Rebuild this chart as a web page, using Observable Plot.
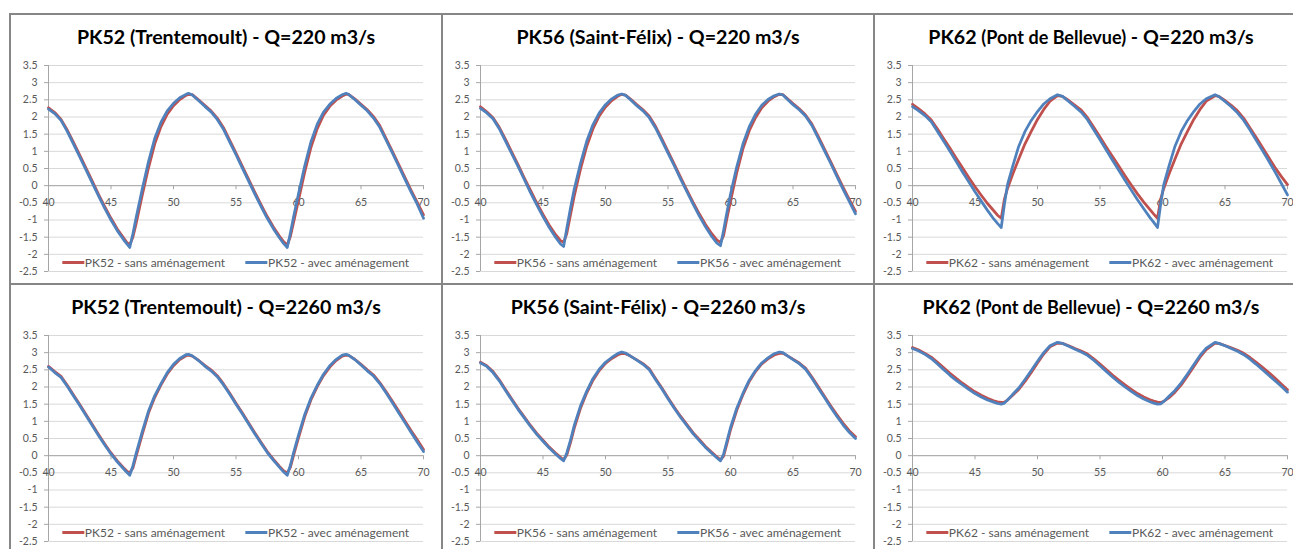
<!DOCTYPE html>
<html><head><meta charset="utf-8">
<script src="https://cdn.jsdelivr.net/npm/d3@7"></script>
<script src="https://cdn.jsdelivr.net/npm/@observablehq/plot@0.6"></script>
<style>
body{margin:0;background:#fff;font-family:Lato,sans-serif;}
#root{position:relative;width:1293px;height:549px;overflow:hidden;background:#fff;}
.title{position:absolute;font-weight:bold;font-size:19.6px;color:#000;white-space:nowrap;transform:translate(-50%,-50%);line-height:1;}
.title .small{font-size:18px;}
.legend{position:absolute;display:flex;gap:20px;transform:translate(-50%,-50%);font-size:12px;color:#595959;white-space:nowrap;align-items:center;line-height:1;}
.legend .sw{display:inline-block;width:22px;height:3px;vertical-align:middle;margin-right:1px;position:relative;top:-1px}
.border{position:absolute;background:#868686;}
svg{position:absolute;overflow:visible}
</style></head>
<body><div id="root"></div>
<script>
// ---- time axes (hours) per station ----
const t52 = [40,40.5,41,41.5,42,42.5,43,43.5,44,44.5,45,45.5,46,46.3,46.5,46.75,47,47.5,48,48.5,49,49.5,50,50.5,51,51.2,51.5,52,52.5,53,53.5,54,54.5,55,55.5,56,56.5,57,57.5,58,58.5,58.8,59.1,59.35,59.6,60,60.5,61,61.5,62,62.5,63,63.5,63.8,64,64.5,65,65.5,66,66.5,67,67.5,68,68.5,69,69.5,70];
const t56 = [40,40.5,41,41.5,42,42.5,43,43.5,44,44.5,45,45.5,46,46.4,46.65,46.9,47.2,47.5,48,48.5,49,49.5,50,50.5,51,51.3,51.6,52,52.5,53,53.5,54,54.5,55,55.5,56,56.5,57,57.5,58,58.5,58.9,59.2,59.45,59.7,60,60.5,61,61.5,62,62.5,63,63.5,63.9,64.2,64.5,65,65.5,66,66.5,67,67.5,68,68.5,69,69.5,70];
const t62 = [40,40.5,41,41.5,42,42.5,43,43.5,44,44.5,45,45.5,46,46.5,46.8,47.1,47.35,47.6,48,48.5,49,49.5,50,50.5,51,51.6,52,52.5,53,53.5,54,54.5,55,55.5,56,56.5,57,57.5,58,58.5,59,59.3,59.6,59.85,60.1,60.5,61,61.5,62,62.5,63,63.5,64.2,64.5,65,65.5,66,66.5,67,67.5,68,68.5,69,69.5,70];

// ---- water levels (m) ----
const sans52q220 = [2.27,2.13,1.93,1.62,1.26,0.89,0.51,0.13,-0.25,-0.61,-0.95,-1.26,-1.52,-1.67,-1.72,-1.50,-1.12,-0.28,0.52,1.22,1.72,2.08,2.33,2.51,2.63,2.66,2.65,2.50,2.34,2.18,1.97,1.69,1.32,0.95,0.57,0.19,-0.19,-0.55,-0.90,-1.21,-1.48,-1.63,-1.73,-1.48,-1.08,-0.42,0.40,1.12,1.66,2.05,2.31,2.49,2.61,2.66,2.66,2.53,2.37,2.21,2.01,1.75,1.38,1.01,0.63,0.25,-0.13,-0.49,-0.85];
const avec52q220 = [2.23,2.10,1.90,1.58,1.21,0.84,0.46,0.08,-0.30,-0.66,-1.00,-1.31,-1.57,-1.71,-1.80,-1.40,-0.95,-0.10,0.70,1.38,1.85,2.18,2.40,2.56,2.66,2.69,2.64,2.48,2.31,2.15,1.93,1.64,1.27,0.90,0.52,0.14,-0.24,-0.60,-0.95,-1.26,-1.53,-1.68,-1.80,-1.38,-0.92,-0.24,0.58,1.28,1.79,2.14,2.37,2.54,2.65,2.69,2.66,2.51,2.34,2.18,1.97,1.70,1.33,0.96,0.58,0.20,-0.18,-0.54,-0.95];
const sans56q220 = [2.30,2.15,1.98,1.70,1.35,0.98,0.61,0.23,-0.14,-0.50,-0.84,-1.15,-1.42,-1.60,-1.65,-1.40,-0.85,-0.30,0.48,1.15,1.66,2.03,2.29,2.48,2.61,2.66,2.64,2.52,2.36,2.21,2.02,1.73,1.37,1.00,0.63,0.25,-0.12,-0.48,-0.82,-1.13,-1.40,-1.58,-1.65,-1.45,-0.98,-0.45,0.38,1.08,1.60,1.98,2.27,2.46,2.59,2.66,2.65,2.55,2.39,2.24,2.06,1.80,1.45,1.08,0.71,0.33,-0.04,-0.40,-0.75];
const avec56q220 = [2.25,2.12,1.95,1.66,1.30,0.93,0.56,0.18,-0.20,-0.56,-0.90,-1.22,-1.50,-1.70,-1.77,-1.25,-0.65,-0.10,0.65,1.30,1.78,2.12,2.36,2.53,2.64,2.67,2.63,2.50,2.33,2.18,1.98,1.68,1.32,0.95,0.58,0.20,-0.17,-0.53,-0.88,-1.20,-1.48,-1.67,-1.75,-1.30,-0.80,-0.25,0.55,1.22,1.72,2.08,2.34,2.51,2.62,2.67,2.64,2.53,2.36,2.21,2.03,1.76,1.40,1.03,0.66,0.28,-0.10,-0.46,-0.82];
const sans62q220 = [2.37,2.24,2.09,1.91,1.65,1.37,1.09,0.80,0.52,0.24,-0.03,-0.28,-0.52,-0.73,-0.86,-0.95,-0.40,-0.08,0.32,0.78,1.22,1.58,1.93,2.22,2.46,2.62,2.60,2.48,2.34,2.20,1.98,1.70,1.42,1.13,0.85,0.57,0.29,0.02,-0.24,-0.48,-0.70,-0.83,-0.95,-0.40,-0.08,0.32,0.78,1.22,1.58,1.93,2.22,2.46,2.62,2.60,2.48,2.34,2.18,1.96,1.68,1.40,1.11,0.82,0.53,0.27,0.03];
const avec62q220 = [2.30,2.18,2.04,1.86,1.58,1.29,1.00,0.70,0.40,0.11,-0.18,-0.45,-0.72,-0.97,-1.10,-1.22,-0.55,0.03,0.55,1.15,1.58,1.90,2.16,2.38,2.53,2.65,2.60,2.45,2.30,2.14,1.92,1.63,1.34,1.04,0.74,0.45,0.16,-0.13,-0.41,-0.67,-0.93,-1.07,-1.22,-0.55,0.03,0.55,1.15,1.58,1.90,2.16,2.38,2.53,2.65,2.60,2.45,2.30,2.12,1.90,1.62,1.32,1.02,0.72,0.40,0.07,-0.27];
const sans52q2260 = [2.60,2.45,2.31,2.05,1.77,1.49,1.20,0.91,0.62,0.34,0.08,-0.15,-0.35,-0.46,-0.50,-0.36,-0.03,0.62,1.24,1.70,2.06,2.38,2.62,2.80,2.91,2.93,2.90,2.78,2.63,2.50,2.33,2.09,1.82,1.53,1.25,0.96,0.67,0.39,0.12,-0.11,-0.32,-0.44,-0.50,-0.34,0.00,0.52,1.14,1.63,2.01,2.33,2.58,2.77,2.90,2.93,2.92,2.81,2.66,2.50,2.35,2.13,1.87,1.59,1.31,1.02,0.73,0.46,0.18];
const avec52q2260 = [2.58,2.42,2.28,2.02,1.74,1.46,1.17,0.88,0.59,0.31,0.05,-0.18,-0.38,-0.50,-0.57,-0.30,0.05,0.70,1.30,1.75,2.10,2.42,2.66,2.83,2.94,2.95,2.91,2.77,2.61,2.47,2.30,2.06,1.79,1.50,1.22,0.93,0.64,0.36,0.09,-0.14,-0.35,-0.47,-0.57,-0.28,0.08,0.60,1.20,1.68,2.05,2.37,2.62,2.80,2.93,2.95,2.93,2.80,2.64,2.47,2.32,2.10,1.83,1.55,1.26,0.97,0.68,0.40,0.12];
const sans56q2260 = [2.72,2.62,2.45,2.21,1.93,1.65,1.38,1.13,0.88,0.65,0.45,0.25,0.08,-0.05,-0.12,0.02,0.38,0.80,1.38,1.83,2.20,2.48,2.69,2.83,2.94,2.98,2.97,2.90,2.79,2.68,2.53,2.25,1.98,1.69,1.41,1.15,0.91,0.67,0.47,0.27,0.10,-0.03,-0.12,-0.01,0.33,0.75,1.32,1.78,2.16,2.45,2.67,2.82,2.93,2.98,2.98,2.92,2.81,2.70,2.55,2.30,2.02,1.74,1.46,1.20,0.95,0.73,0.55];
const avec56q2260 = [2.70,2.60,2.42,2.18,1.90,1.62,1.35,1.10,0.85,0.62,0.42,0.22,0.05,-0.08,-0.15,0.08,0.45,0.88,1.45,1.88,2.25,2.52,2.72,2.86,2.98,3.02,2.99,2.90,2.78,2.66,2.50,2.22,1.95,1.66,1.38,1.12,0.88,0.64,0.44,0.24,0.07,-0.06,-0.15,0.05,0.40,0.82,1.38,1.82,2.20,2.48,2.70,2.85,2.97,3.02,3.00,2.92,2.80,2.68,2.52,2.26,1.98,1.70,1.42,1.15,0.90,0.68,0.50];
const sans62q2260 = [3.15,3.08,2.98,2.87,2.72,2.56,2.40,2.25,2.11,1.98,1.86,1.76,1.67,1.60,1.57,1.55,1.56,1.62,1.75,1.93,2.16,2.42,2.70,2.96,3.17,3.28,3.27,3.20,3.12,3.05,2.96,2.82,2.67,2.51,2.35,2.20,2.06,1.93,1.81,1.71,1.63,1.59,1.56,1.55,1.58,1.68,1.85,2.06,2.32,2.59,2.87,3.09,3.28,3.27,3.21,3.14,3.07,2.98,2.86,2.72,2.57,2.42,2.26,2.09,1.92];
const avec62q2260 = [3.12,3.05,2.95,2.83,2.67,2.50,2.34,2.19,2.06,1.93,1.81,1.71,1.62,1.56,1.52,1.50,1.53,1.62,1.78,1.97,2.22,2.48,2.75,3.00,3.20,3.30,3.27,3.19,3.10,3.02,2.92,2.78,2.62,2.45,2.29,2.14,2.00,1.87,1.75,1.65,1.57,1.53,1.50,1.51,1.58,1.72,1.90,2.12,2.38,2.65,2.92,3.13,3.30,3.27,3.20,3.12,3.04,2.94,2.81,2.66,2.50,2.34,2.18,2.02,1.85];

// ---- labels ----
const stations = ["PK52", "PK56", "PK62", "PK52", "PK56", "PK62"];
const places = ["Trentemoult", "Saint-Félix", "Pont de Bellevue", "Trentemoult", "Saint-Félix", "Pont de Bellevue"];
const flows = ["220", "220", "220", "2260", "2260", "2260"];
const seriesLabels = ["sans aménagement", "avec aménagement"];
const xTicks = [40, 45, 50, 55, 60, 65, 70];
const yTicks = [-2.5, -2, -1.5, -1, -0.5, 0, 0.5, 1, 1.5, 2, 2.5, 3, 3.5];

const times = [t52, t56, t62, t52, t56, t62];
const sansSeries = [sans52q220, sans56q220, sans62q220, sans52q2260, sans56q2260, sans62q2260];
const avecSeries = [avec52q220, avec56q220, avec62q220, avec52q2260, avec56q2260, avec62q2260];

// ---- layout (page pixels) ----
const layout = [
  {x0: 48, x1: 423, y0: 65, y1: 271, tx: 226, ty: 37, ly: 263},
  {x0: 480, x1: 855, y0: 65, y1: 271, tx: 658, ty: 37, ly: 263},
  {x0: 912, x1: 1287, y0: 65, y1: 271, tx: 1091, ty: 37, ly: 263},
  {x0: 48, x1: 423, y0: 335, y1: 541, tx: 226, ty: 307, ly: 533},
  {x0: 480, x1: 855, y0: 335, y1: 541, tx: 658, ty: 307, ly: 533},
  {x0: 912, x1: 1287, y0: 335, y1: 541, tx: 1091, ty: 307, ly: 533}
];
const RED = "#C0504D", BLUE = "#4F81BD";

const root = document.getElementById("root");
function addBorder(l, t, w, h) {
  const d = document.createElement("div"); d.className = "border";
  Object.assign(d.style, {left: l + "px", top: t + "px", width: w + "px", height: h + "px"});
  root.appendChild(d);
}
addBorder(9, 13, 1284, 2);
addBorder(9, 283, 1284, 2);
addBorder(9, 13, 2, 536);
addBorder(441, 13, 2, 536);
addBorder(873, 13, 2, 536);

stations.forEach((st, i) => {
  const L = layout[i];
  const mL = 40, mR = 8, mT = 12, mB = 10;
  const w = L.x1 - L.x0 + mL + mR, h = L.y1 - L.y0 + mT + mB;
  const t = times[i];
  const sans = t.map((x, j) => ({x, y: sansSeries[i][j]}));
  const avec = t.map((x, j) => ({x, y: avecSeries[i][j]}));
  const svg = Plot.plot({
    width: w, height: h, marginLeft: mL, marginRight: mR, marginTop: mT, marginBottom: mB,
    x: {domain: [40, 70], axis: null},
    y: {domain: [-2.5, 3.5]},
    style: {fontFamily: "Lato, sans-serif", fontSize: "10.5px", color: "#595959", background: "transparent", overflow: "visible"},
    marks: [
      Plot.ruleY(yTicks, {stroke: "#d9d9d9", strokeWidth: 1}),
      Plot.ruleY([0], {stroke: "#a6a6a6", strokeWidth: 1}),
      Plot.ruleX([40], {stroke: "#a6a6a6", strokeWidth: 1}),
      Plot.ruleX(xTicks, {y1: 0, y2: -0.12, stroke: "#a6a6a6"}),
      Plot.axisY({ticks: yTicks, tickFormat: d => String(d), tickSize: 4, tickPadding: 7, stroke: "#a6a6a6", label: null}),
      Plot.text(xTicks, {x: d => d, y: 0, dy: 17, text: d => String(d), fill: "#595959"}),
      Plot.line(sans, {x: "x", y: "y", stroke: RED, strokeWidth: 2.75}),
      Plot.line(avec, {x: "x", y: "y", stroke: BLUE, strokeWidth: 2.75})
    ]
  });
  svg.style.left = (L.x0 - mL) + "px";
  svg.style.top = (L.y0 - mT) + "px";
  root.appendChild(svg);

  const title = document.createElement("div");
  title.className = "title";
  const small = places[i] === "Pont de Bellevue";
  title.innerHTML = `${st} ${small ? '<span class="small">(' + places[i] + ')</span>' : "(" + places[i] + ")"} - Q=${flows[i]} m3/s`;
  title.style.left = L.tx + "px"; title.style.top = L.ty + "px";
  root.appendChild(title);

  const lg = document.createElement("div");
  lg.className = "legend";
  lg.innerHTML = seriesLabels.map((s, k) =>
    `<span><span class="sw" style="background:${k ? BLUE : RED}"></span>${st} - ${s}</span>`).join("");
  lg.style.left = ((L.x0 + L.x1) / 2) + "px"; lg.style.top = L.ly + "px";
  root.appendChild(lg);
});
</script></body></html>
